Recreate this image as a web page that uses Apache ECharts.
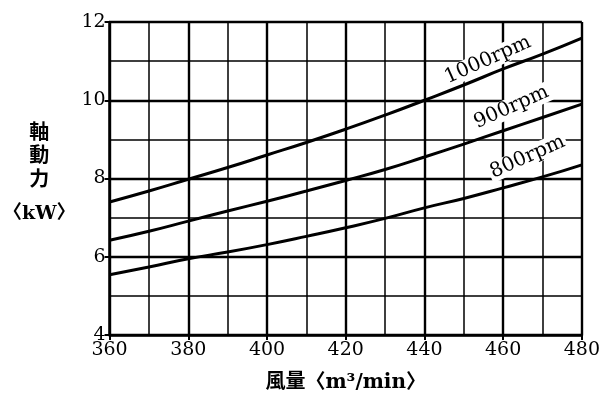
<!DOCTYPE html>
<html>
<head>
<meta charset="utf-8">
<script src="https://cdn.jsdelivr.net/npm/echarts@6/dist/echarts.min.js"></script>
<style>
html,body{margin:0;padding:0;background:#fff;}
#chart{width:603px;height:401px;}
</style>
</head>
<body>
<div id="chart"></div>
<script>
// Air volume (m3/min)
const airVolume = [360, 370, 380, 390, 400, 410, 420, 430, 440, 450, 460, 470, 480];
// Shaft power (kW) per fan speed
const power1000 = [7.40, 7.68, 7.98, 8.28, 8.60, 8.92, 9.26, 9.62, 10.00, 10.39, 10.80, 11.18, 11.59];
const power900  = [6.42, 6.65, 6.91, 7.17, 7.42, 7.68, 7.95, 8.23, 8.55, 8.88, 9.22, 9.56, 9.90];
const power800  = [5.54, 5.74, 5.95, 6.12, 6.31, 6.52, 6.74, 6.98, 7.25, 7.49, 7.76, 8.04, 8.35];
const seriesNames = ['1000rpm', '900rpm', '800rpm'];
// label anchor points (data coords)
const labelX = [456.1, 462.1, 466.2];
const labelY = [11.03, 9.82, 8.55];
const xTicks = [360, 380, 400, 420, 440, 460, 480];
const yTicks = [4, 6, 8, 10, 12];

const allPower = [power1000, power900, power800];
const serif = "'DejaVu Serif', 'Liberation Serif', serif";

const chart = echarts.init(document.getElementById('chart'), null, {renderer: 'canvas'});
chart.setOption({
  animation: false,
  backgroundColor: '#fff',
  grid: {left: 105, right: 21, top: 22, bottom: 66},
  xAxis: {
    type: 'value',
    min: xTicks[0], max: xTicks[xTicks.length - 1], interval: xTicks[1] - xTicks[0],
    name: '風量〈m³/min〉',
    nameLocation: 'middle',
    nameGap: 48,
    nameTextStyle: {fontFamily: serif + ", 'Noto Sans CJK JP'", fontSize: 20, fontWeight: 'bold', color: '#000', verticalAlign: 'middle'},
    axisLine: {show: true, lineStyle: {color: '#000', width: 2.5}},
    axisTick: {show: true, length: 5, lineStyle: {color: '#000', width: 2}},
    axisLabel: {fontFamily: serif, fontSize: 19, color: '#000', margin: 6},
    splitLine: {show: true, lineStyle: {color: '#000', width: 2.4}},
    minorTick: {show: false, splitNumber: 2},
    minorSplitLine: {show: true, lineStyle: {color: '#000', width: 1.5}}
  },
  yAxis: {
    type: 'value',
    min: yTicks[0], max: yTicks[yTicks.length - 1], interval: yTicks[1] - yTicks[0],
    name: '{a|軸}\n{a|動}\n{a|力}\n{b|〈kW〉}',
    nameLocation: 'middle',
    nameRotate: 0,
    nameGap: 67,
    nameTextStyle: {
      align: 'center', verticalAlign: 'middle', color: '#000',
      rich: {
        a: {fontFamily: "'Noto Sans CJK JP'", fontSize: 20, fontWeight: 'bold', lineHeight: 23.5, color: '#000', align: 'center'},
        b: {fontFamily: serif + ", 'Noto Sans CJK JP'", fontSize: 19, fontWeight: 'bold', lineHeight: 48, color: '#000', align: 'center'}
      }
    },
    axisLine: {show: true, lineStyle: {color: '#000', width: 2.5}},
    axisTick: {show: true, length: 5, lineStyle: {color: '#000', width: 2}},
    axisLabel: {fontFamily: serif, fontSize: 19, color: '#000', margin: 4},
    splitLine: {show: true, lineStyle: {color: '#000', width: 2.4}},
    minorTick: {show: false, splitNumber: 2},
    minorSplitLine: {show: true, lineStyle: {color: '#000', width: 1.5}}
  },
  series: allPower.map((vals, i) => ({
    type: 'line',
    name: seriesNames[i],
    smooth: true,
    symbol: 'none',
    lineStyle: {color: '#000', width: 3},
    data: airVolume.map((x, j) => [x, vals[j]]),
    z: 3,
    markPoint: {
      symbol: 'circle',
      symbolSize: 0,
      itemStyle: {color: 'rgba(0,0,0,0)'},
      label: {
        show: true,
        formatter: seriesNames[i],
        position: 'inside',
        rotate: 24,
        fontFamily: serif,
        fontSize: 20,
        color: '#000',
        backgroundColor: '#fff',
        padding: [0, 2, 0, 2]
      },
      data: [{coord: [labelX[i], labelY[i]]}]
    }
  }))
});
</script>
</body>
</html>
